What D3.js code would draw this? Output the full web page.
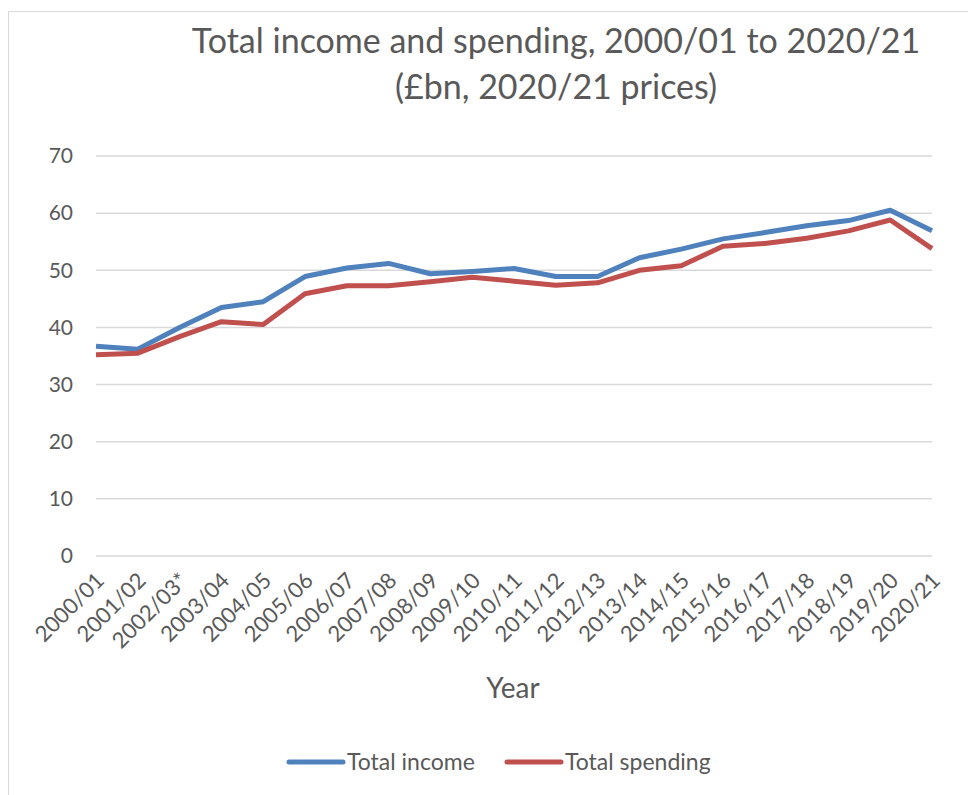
<!DOCTYPE html>
<html lang="en">
<head>
<meta charset="UTF-8">
<title>Total income and spending</title>
<script src="https://cdn.jsdelivr.net/npm/d3@7"></script>
<style>
body { margin: 0; background: #fff; font-family: 'Lato', 'Open Sans', sans-serif; }
svg text { fill: #595959; }
</style>
</head>
<body>
<div id="chart"></div>
<script>
// Data
const years = ["2000/01", "2001/02", "2002/03*", "2003/04", "2004/05", "2005/06", "2006/07",
    "2007/08", "2008/09", "2009/10", "2010/11", "2011/12", "2012/13", "2013/14", "2014/15",
    "2015/16", "2016/17", "2017/18", "2018/19", "2019/20", "2020/21"];
const income = [36.7, 36.2, 40.0, 43.5, 44.5, 48.9, 50.4, 51.2, 49.4, 49.8, 50.3, 48.9, 48.9,
    52.2, 53.7, 55.5, 56.6, 57.8, 58.7, 60.5, 56.9];
const spending = [35.2, 35.5, 38.4, 41.0, 40.5, 45.9, 47.3, 47.3, 48.0, 48.8, 48.1, 47.4, 47.8,
    50.0, 50.8, 54.2, 54.7, 55.6, 56.9, 58.8, 53.8];
const yTicks = [0, 10, 20, 30, 40, 50, 60, 70];
const series = [
    { name: "Total income", values: income, color: "#4f81bd" },
    { name: "Total spending", values: spending, color: "#c0504d" }
];

const width = 968, height = 795;
const margin = { left: 96, right: 36, top: 156, bottom: 239 };

const svg = d3.select("#chart").append("svg")
    .attr("width", width).attr("height", height);

// chart area border (only top and left edges visible in frame)
svg.append("rect")
    .attr("x", 8.5).attr("y", 11.5)
    .attr("width", width + 20).attr("height", height + 20)
    .attr("fill", "none").attr("stroke", "#d9d9d9");

const x = d3.scalePoint().domain(years).range([margin.left, width - margin.right]);
const y = d3.scaleLinear().domain([0, 70]).range([height - margin.bottom, margin.top]);

// Title
svg.append("text")
    .attr("x", 556).attr("y", 53)
    .attr("text-anchor", "middle")
    .style("font-size", "34px")
    .text("Total income and spending, 2000/01 to 2020/21");
svg.append("text")
    .attr("x", 556).attr("y", 99)
    .attr("text-anchor", "middle")
    .style("font-size", "34px")
    .text("(£bn, 2020/21 prices)");

// Gridlines
svg.append("g")
    .selectAll("line")
    .data(yTicks)
    .join("line")
    .attr("x1", margin.left).attr("x2", width - margin.right)
    .attr("y1", d => y(d)).attr("y2", d => y(d))
    .attr("stroke", "#d9d9d9").attr("stroke-width", 1.5);

// Y axis labels
const yAxis = svg.append("g")
    .attr("transform", `translate(${margin.left},0)`)
    .call(d3.axisLeft(y).tickValues(yTicks).tickSize(0).tickPadding(23))
    .attr("font-family", null);
yAxis.select(".domain").remove();
yAxis.selectAll("text").style("font-size", "21px").attr("fill", "#595959");

// X axis labels
const xAxis = svg.append("g")
    .attr("transform", `translate(0,${y(0)})`)
    .call(d3.axisBottom(x).tickSize(0))
    .attr("font-family", null);
xAxis.select(".domain").remove();
xAxis.selectAll("text")
    .style("font-size", "22px")
    .attr("fill", "#595959")
    .attr("text-anchor", "end")
    .attr("dy", null)
    .attr("y", 0)
    .attr("transform", "translate(9,26) rotate(-45)");

// Axis title
svg.append("text")
    .attr("x", 513).attr("y", 698)
    .attr("text-anchor", "middle")
    .style("font-size", "28px")
    .text("Year");

// Lines
const line = d3.line()
    .x((d, i) => x(years[i]))
    .y(d => y(d));

svg.append("g")
    .selectAll("path")
    .data(series)
    .join("path")
    .attr("d", d => line(d.values))
    .attr("fill", "none")
    .attr("stroke", d => d.color)
    .attr("stroke-width", 5)
    .attr("stroke-linejoin", "round");

// Legend
const legendPos = [289, 507];
const legend = svg.append("g")
    .selectAll("g")
    .data(series)
    .join("g")
    .attr("transform", (d, i) => `translate(${legendPos[i]},762)`);
legend.append("line")
    .attr("x1", 0).attr("x2", 54)
    .attr("stroke", d => d.color)
    .attr("stroke-width", 5)
    .attr("stroke-linecap", "round");
legend.append("text")
    .attr("x", 58).attr("y", 8)
    .style("font-size", "23px")
    .text(d => d.name);
</script>
</body>
</html>
